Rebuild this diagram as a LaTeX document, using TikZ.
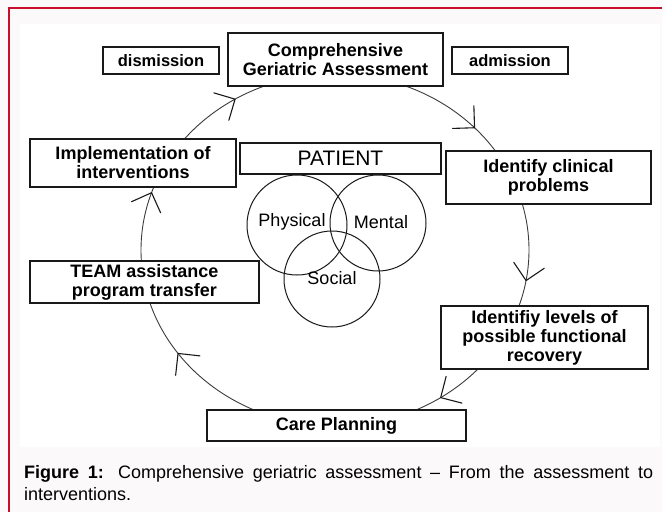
\documentclass[tikz,border=0pt]{standalone}
\usepackage{fontspec}
\setmainfont{Liberation Sans}
\usetikzlibrary{shadows}
\definecolor{framered}{RGB}{200,16,46}
\definecolor{pagebg}{RGB}{252,249,250}
\definecolor{ink}{RGB}{25,25,25}
\begin{document}
\begin{tikzpicture}[x=1pt,y=-1pt,
  stepbox/.style={draw=ink, line width=1.1pt, fill=white, rectangle, inner sep=0pt,
    align=center, font=\bfseries\fontsize{18}{19}\selectfont,
    general shadow={shadow xshift=1.3pt, shadow yshift=-1.3pt, fill=black!45}},
  smallbox/.style={stepbox, font=\bfseries\fontsize{16.5}{16.5}\selectfont},
  ring/.style={draw=ink, line width=1pt, circle, inner sep=0pt, minimum size=#1},
  ringlabel/.style={font=\fontsize{18}{18}\selectfont, inner sep=0pt},
  cycleline/.style={draw=ink!85, line width=0.9pt},
  wing/.style={draw=ink, line width=1.1pt, line cap=round}]
\useasboundingbox (0,0) rectangle (662,512);
% page background and frame
\fill[pagebg] (0,0) rectangle (662,512);
\fill[white] (20,24) rectangle (660,447);
\draw[framered, line width=2pt] (9,512) -- (9,8) -- (662,8);
% cycle ellipse
\draw[cycleline] (335,250) ellipse [x radius=194, y radius=176];
\foreach \t in {121,44,-10,-57,216,161}{
  \pgfmathsetmacro\px{335+194*cos(\t)}
  \pgfmathsetmacro\py{250-176*sin(\t)}
  \pgfmathsetmacro\ang{atan2(176*cos(\t),194*sin(\t))}
  \coordinate (tip) at (\px,\py);
  \draw[wing] (tip) -- ++(\ang+135:22) (tip) -- ++(\ang+225:22);
}
% boxes
\node[smallbox, minimum width=116pt, minimum height=27pt] (dis) at (161,60.5) {dismission};
\node[stepbox, minimum width=215pt, minimum height=53pt] (cga) at (335.5,59.5) {Comprehensive\\Geriatric Assessment};
\node[smallbox, minimum width=116pt, minimum height=27pt] (adm) at (510,60.5) {admission};
\node[stepbox, minimum width=206pt, minimum height=48pt] (impl) at (133,163) {Implementation of\\interventions};
\node[stepbox, minimum width=201pt, minimum height=31pt, font=\fontsize{21}{21}\selectfont] (pat) at (340.5,158.5) {PATIENT};
\node[stepbox, minimum width=205pt, minimum height=53pt] (clin) at (548.5,177.5) {Identify clinical\\problems};
\node[stepbox, minimum width=229pt, minimum height=42pt] (team) at (144.5,282) {TEAM assistance\\program transfer};
\node[stepbox, minimum width=207pt, minimum height=63pt] (lev) at (544.5,337.5) {Identifiy levels of\\possible functional\\recovery};
\node[stepbox, minimum width=259pt, minimum height=31pt] (care) at (336.5,425.5) {Care Planning};
% patient circles
\node[ring=100pt] (phys) at (297,225) {};
\node[ring=96pt] (ment) at (378,223) {};
\node[ring=96pt] (soc) at (332,279) {};
\node[ringlabel] (lphys) at (292,222) {Physical};
\node[ringlabel] (lment) at (381,222) {Mental};
\node[ringlabel] (lsoc) at (332,278) {Social};
% caption
\node[anchor=base west, inner sep=0pt, font=\fontsize{18}{21}\selectfont] (cap1) at (24,478)
  {\makebox[629pt][s]{\textbf{Figure 1:} Comprehensive geriatric assessment – From the assessment to}};
\node[anchor=base west, inner sep=0pt, font=\fontsize{18}{21}\selectfont] (cap2) at (24,500) {interventions.};
\end{tikzpicture}
\end{document}
